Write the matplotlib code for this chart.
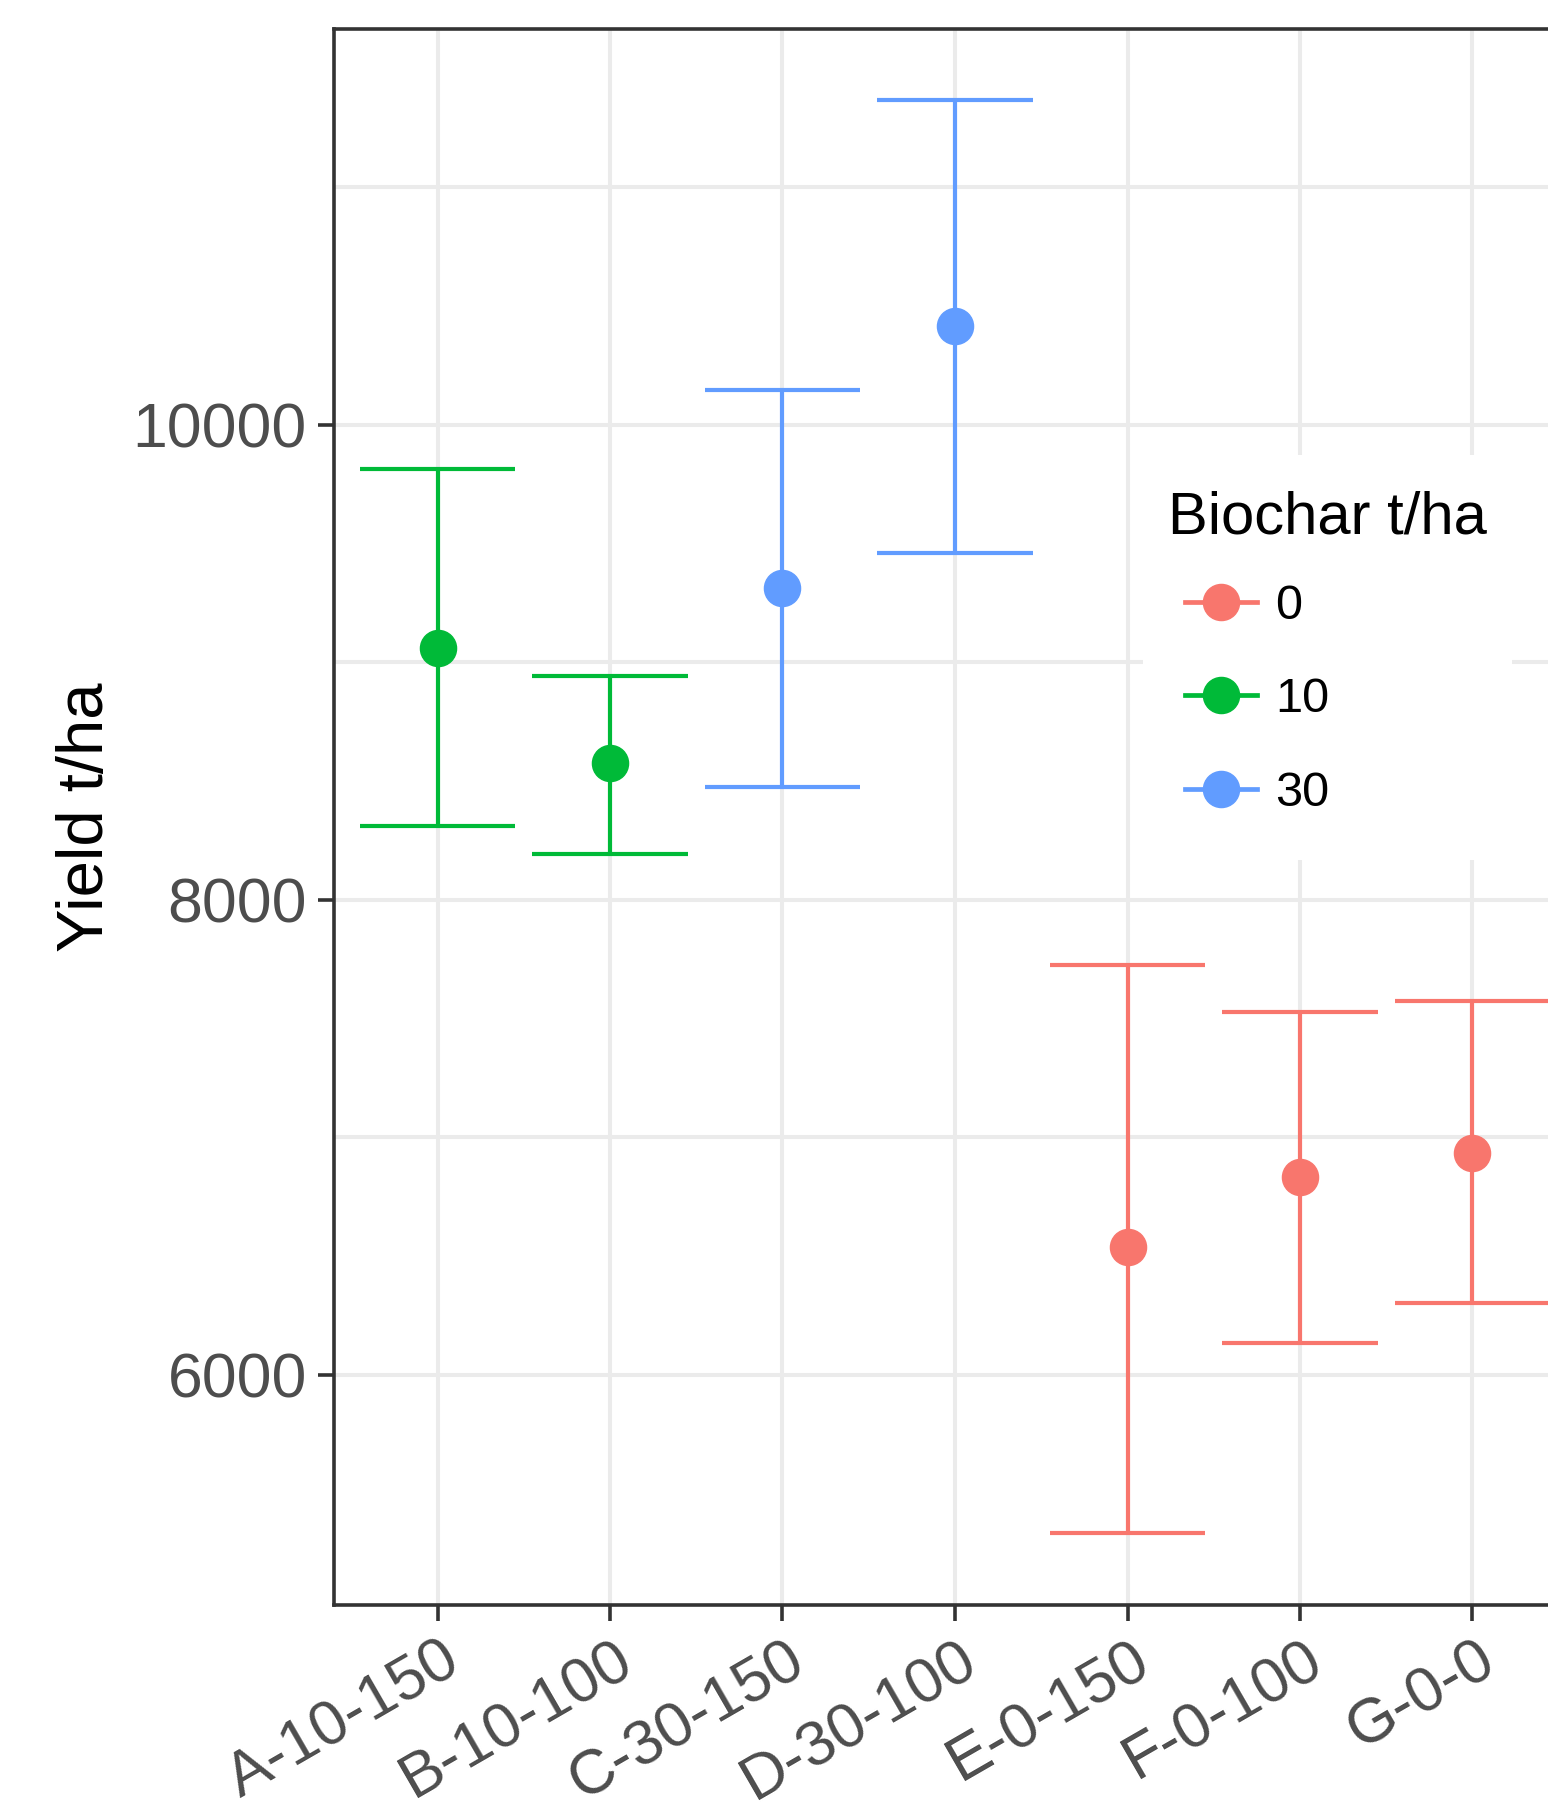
import matplotlib
matplotlib.use("Agg")
import matplotlib.pyplot as plt
from matplotlib.lines import Line2D
from matplotlib.patches import Rectangle
from matplotlib.ticker import MultipleLocator, FixedLocator
from matplotlib.legend_handler import HandlerLine2D
from matplotlib.transforms import ScaledTranslation

plt.rcParams['font.family'] = ['Liberation Sans', 'DejaVu Sans']

# ---- data ----
treatments = ["A-10-150", "B-10-100", "C-30-150", "D-30-100", "E-0-150", "F-0-100", "G-0-0"]
biochar = ["10", "10", "30", "30", "0", "0", "0"]
yield_mean = [9060, 8577, 9313, 10414, 6536, 6833, 6935]
yield_low = [8309, 8192, 8475, 9459, 5333, 6132, 6302]
yield_high = [9815, 8943, 10146, 11369, 7725, 7525, 7574]
legend_levels = ["0", "10", "30"]
palette = {"0": "#F8766D", "10": "#00BA38", "30": "#619CFF"}
y_ticks = [6000, 8000, 10000]

W, H = 1548, 1814
fig = plt.figure(figsize=(W / 100, H / 100), dpi=100)
ax = fig.add_axes([334 / W, 1 - 1605 / H, 1242 / W, 1576 / H])

x = list(range(1, len(treatments) + 1))
ax.set_xlim(0.4, len(treatments) + 0.6)
ax.set_ylim(5030, 11666)

grid_c = "#EBEBEB"
ax.set_axisbelow(True)
ax.yaxis.set_major_locator(FixedLocator(y_ticks))
ax.yaxis.set_minor_locator(MultipleLocator(1000))
ax.set_xticks(x)
ax.grid(which="major", color=grid_c, linewidth=2.9)
ax.grid(which="minor", axis="y", color=grid_c, linewidth=2.9)

lw = 3.0
msize = 26
for xi, m, lo, hi, b in zip(x, yield_mean, yield_low, yield_high, biochar):
    c = palette[b]
    ax.vlines(xi, lo, hi, color=c, linewidth=lw, zorder=3)
    ax.hlines([lo, hi], xi - 0.45, xi + 0.45, color=c, linewidth=lw, zorder=3)
    ax.plot([xi], [m], marker="o", markersize=msize, color=c, linestyle="none", zorder=4)

for s in ax.spines.values():
    s.set_color("#333333")
    s.set_linewidth(2.6)

ax.tick_params(axis="both", which="major", length=11.5, width=2.6, color="#333333",
               labelcolor="#4D4D4D", labelsize=45, pad=8)
ax.tick_params(axis="x", which="major", pad=6.5)
ax.tick_params(axis="y", which="minor", length=0)
ax.set_yticklabels([str(v) for v in y_ticks])
ax.set_xticklabels(treatments, rotation=30, ha="right", va="top", rotation_mode="anchor")
shift = ScaledTranslation(3 / 100, 0, fig.dpi_scale_trans)
for lab in ax.get_xticklabels():
    lab.set_transform(lab.get_transform() + shift)

ax.set_ylabel("Yield t/ha", fontsize=47, color="black", labelpad=12)

# legend background (white key area)
ax.add_patch(Rectangle((1143 / W, 1 - 860 / H), 369 / W, 405 / H, transform=fig.transFigure,
                       facecolor="white", edgecolor="none", zorder=1))


class ShiftedLineHandler(HandlerLine2D):
    def __init__(self, offset, **kw):
        super().__init__(**kw)
        self.offset = offset

    def create_artists(self, legend, orig_handle, xdescent, ydescent, width, height,
                       fontsize, trans):
        return super().create_artists(legend, orig_handle, xdescent - self.offset, ydescent,
                                      width - self.offset, height, fontsize, trans)


handles = [Line2D([0], [0], color=palette[l], linewidth=3.4, marker="o", markersize=msize)
           for l in legend_levels]
leg = ax.legend(handles, legend_levels, title="Biochar t/ha", loc="upper left",
                bbox_to_anchor=(1168 / W, 1 - 490 / H), bbox_transform=fig.transFigure,
                frameon=False, fontsize=35, title_fontsize=43, handlelength=1.83,
                handletextpad=0.37, labelspacing=1.0, borderpad=0, borderaxespad=0,
                alignment="left",
                handler_map={Line2D: ShiftedLineHandler(12.24)})
leg._legend_box.sep = 27.8
leg.set_zorder(5)

fig.savefig("out.png", dpi=100, facecolor="white")
